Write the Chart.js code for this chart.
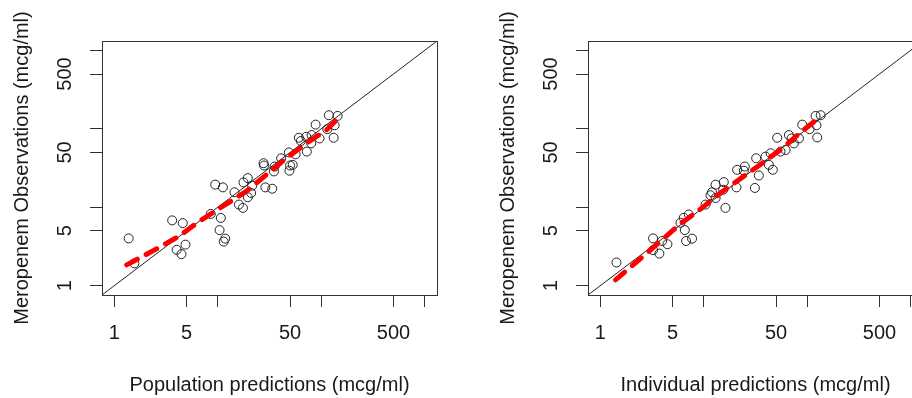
<!DOCTYPE html>
<html>
<head>
<meta charset="utf-8">
<script src="https://cdn.jsdelivr.net/npm/chart.js@4.4.0/dist/chart.umd.min.js"></script>
<style>
html,body{margin:0;padding:0;width:912px;height:398px;overflow:hidden;background:#fff;}
canvas{position:absolute;top:0;}
#c1{left:0;}
#c2{left:486px;}
</style>
</head>
<body>
<canvas id="c1" width="456" height="398"></canvas>
<canvas id="c2" width="456" height="398"></canvas>
<script>
// ---- tick marks and labels (log axes) ----
const TICK_VALUES = [1, 5, 10, 50, 100, 500, 1000];
const TICK_LABELS = ['1', '5', '', '50', '', '500', ''];
const AXIS_LIMITS = [0.7586, 1318];

// ---- panel 1: population predictions vs observations ----
const POP_PRED = [1.375,1.56,3.62,4.58,4.0,4.87,4.45,8.55,9.44,11.2,10.7,10.4,11.8,11.4,14.5,16,17.5,17.7,19.5,21.5,21,19.5,28.8,33.6,27.7,28,35.4,34.9,41,48.7,50,49.3,53,56.5,60.8,71.7,72.6,80.7,80,88.3,96.5,118.6,144,135,132,63.6,114.5];
const POP_OBS  = [4.0,1.92,6.79,6.27,2.86,3.33,2.52,8.2,19.4,17.9,7.3,5.1,3.97,3.64,15.5,10.8,9.8,20.7,23.5,18.8,15.2,13.4,17.9,17.2,36.4,34,33,28.6,42,50,34,29.2,34.7,47.3,76.9,79.2,51.2,83.2,65.2,113,75.4,149,146,111,76.9,69.8,99];
const POP_SMOOTH_X = [1.315,2.53,4.26,6.65,11.2,18.8,29.4,45.9,71.7,112,150.7];
const POP_SMOOTH_Y = [1.84,2.92,4.29,6.65,10.3,15.9,25.9,42,65.2,96.3,142];

// ---- panel 2: individual predictions vs observations ----
const IND_PRED = [1.43,3.23,3.23,3.72,4.45,3.95,5.95,6.4,7.16,6.55,6.74,7.7,10.4,11.6,13,13,15.6,16.2,15.4,20.7,24.9,24.4,31.2,34.1,32.1,39.5,42.6,46.5,44.3,51.3,55.2,61.8,66.5,70.6,74.3,83.2,89.5,105.5,123,125,120.5,135,21,12];
const IND_OBS  = [1.97,4.0,2.83,2.56,3.37,3.71,6.33,7.32,8.08,5.11,3.71,3.97,10.8,14.2,19.4,13.1,20.9,9.8,16.7,17.9,33,29.2,17.6,25.4,42.1,44.2,34.7,30,48.7,76.9,51.2,53.7,83.2,75.4,65.2,75.4,113,99,111,77.6,146,149,30,15.5];
const IND_SMOOTH_X = [1.40,2.35,3.67,5.95,9.63,14.5,23.5,36.7,57.3,89.5,130];
const IND_SMOOTH_Y = [1.18,2.12,3.53,6.15,9.8,15.2,24,36.4,56.3,93.5,138];

const FONT = {family: '"Liberation Sans", Arial, sans-serif', size: 20};
const TEXT_COLOR = '#1a1a1a';

const boxPlugin = {
  id: 'box',
  afterDatasetsDraw(chart) {
    const a = chart.chartArea, ctx = chart.ctx;
    ctx.save();
    ctx.strokeStyle = '#333';
    ctx.lineWidth = 1;
    ctx.strokeRect(Math.round(a.left) + 0.5, Math.round(a.top) + 0.5, Math.round(a.right - a.left), Math.round(a.bottom - a.top));
    ctx.restore();
  }
};

function zip(xs, ys) { return xs.map((x, i) => ({x: x, y: ys[i]})); }

function axis(title, isY) {
  const o = {
    type: 'logarithmic',
    min: AXIS_LIMITS[0],
    max: AXIS_LIMITS[1],
    afterBuildTicks: s => { s.ticks = TICK_VALUES.map(v => ({value: v})); },
    ticks: {
      autoSkip: false,
      font: FONT,
      color: TEXT_COLOR,
      callback: (v) => { const i = TICK_VALUES.indexOf(v); return i >= 0 ? TICK_LABELS[i] : ''; }
    },
    grid: {display: true, drawOnChartArea: false, drawTicks: true, tickLength: 12, color: '#333', lineWidth: 1},
    border: {display: false},
    title: {display: true, text: title, font: FONT, color: TEXT_COLOR}
  };
  if (isY) {
    o.ticks.minRotation = 90;
    o.ticks.maxRotation = 90;
    o.ticks.crossAlign = 'center';
    o.ticks.padding = 8;
    o.title.padding = {top: 10, bottom: 0};
    o.afterFit = s => { s.width = 102; };
  } else {
    o.ticks.maxRotation = 0;
    o.ticks.minRotation = 0;
    o.ticks.padding = 14;
    o.title.padding = {top: 0, bottom: 1};
    o.afterFit = s => { s.height = 103; };
  }
  return o;
}

function makeChart(id, xTitle, px, py, sx, sy) {
  return new Chart(document.getElementById(id), {
    type: 'scatter',
    data: {
      datasets: [
        {
          label: 'identity',
          data: zip(AXIS_LIMITS, AXIS_LIMITS),
          showLine: true,
          borderColor: '#222',
          borderWidth: 1,
          pointRadius: 0,
          order: 3
        },
        {
          label: 'observations',
          data: zip(px, py),
          pointStyle: 'circle',
          pointRadius: 4.5,
          pointBackgroundColor: 'rgba(0,0,0,0)',
          pointBorderColor: '#222',
          pointBorderWidth: 1,
          showLine: false,
          order: 2
        },
        {
          label: 'smooth',
          data: zip(sx, sy),
          showLine: true,
          borderColor: '#ff0000',
          borderWidth: 5,
          borderDash: [12, 10],
          borderCapStyle: 'round',
          pointRadius: 0,
          tension: 0,
          order: 1
        }
      ]
    },
    options: {
      responsive: false,
      animation: false,
      events: [],
      layout: {padding: {left: 0, right: 19, top: 41, bottom: 0}},
      plugins: {legend: {display: false}, tooltip: {enabled: false}},
      scales: {
        x: axis(xTitle, false),
        y: axis('Meropenem Observations (mcg/ml)', true)
      }
    },
    plugins: [boxPlugin]
  });
}

makeChart('c1', 'Population predictions (mcg/ml)', POP_PRED, POP_OBS, POP_SMOOTH_X, POP_SMOOTH_Y);
makeChart('c2', 'Individual predictions (mcg/ml)', IND_PRED, IND_OBS, IND_SMOOTH_X, IND_SMOOTH_Y);
</script>
</body>
</html>
